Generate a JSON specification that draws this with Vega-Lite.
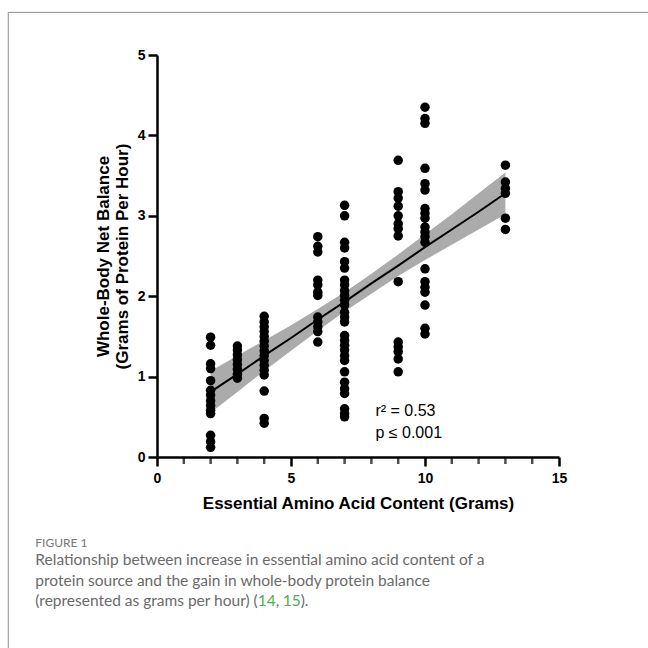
{
  "$schema": "https://vega.github.io/schema/vega-lite/v6.json",
  "autosize": "none",
  "width": 402,
  "height": 402,
  "padding": {"left": 157, "top": 55, "right": 89, "bottom": 191},
  "background": "white",
  "config": {"view": {"stroke": null}, "axis": {"labelOverlap": false, "labelFlush": false}},
  "datasets": {
    "points": [
      {"eaa": 2, "nb": 1.49}, {"eaa": 2, "nb": 1.39}, {"eaa": 2, "nb": 1.16}, {"eaa": 2, "nb": 1.10},
      {"eaa": 2, "nb": 0.95}, {"eaa": 2, "nb": 0.83}, {"eaa": 2, "nb": 0.77}, {"eaa": 2, "nb": 0.70},
      {"eaa": 2, "nb": 0.64}, {"eaa": 2, "nb": 0.58}, {"eaa": 2, "nb": 0.54}, {"eaa": 2, "nb": 0.27},
      {"eaa": 2, "nb": 0.19}, {"eaa": 2, "nb": 0.12},
      {"eaa": 3, "nb": 1.38}, {"eaa": 3, "nb": 1.33}, {"eaa": 3, "nb": 1.27}, {"eaa": 3, "nb": 1.21},
      {"eaa": 3, "nb": 1.15}, {"eaa": 3, "nb": 1.09}, {"eaa": 3, "nb": 1.03}, {"eaa": 3, "nb": 0.98},
      {"eaa": 4, "nb": 1.75}, {"eaa": 4, "nb": 1.68}, {"eaa": 4, "nb": 1.62}, {"eaa": 4, "nb": 1.56},
      {"eaa": 4, "nb": 1.50}, {"eaa": 4, "nb": 1.44}, {"eaa": 4, "nb": 1.38}, {"eaa": 4, "nb": 1.32},
      {"eaa": 4, "nb": 1.26}, {"eaa": 4, "nb": 1.20}, {"eaa": 4, "nb": 1.14}, {"eaa": 4, "nb": 1.08},
      {"eaa": 4, "nb": 1.02}, {"eaa": 4, "nb": 0.82}, {"eaa": 4, "nb": 0.48}, {"eaa": 4, "nb": 0.42},
      {"eaa": 6, "nb": 2.74}, {"eaa": 6, "nb": 2.62}, {"eaa": 6, "nb": 2.55}, {"eaa": 6, "nb": 2.20},
      {"eaa": 6, "nb": 2.14}, {"eaa": 6, "nb": 2.05}, {"eaa": 6, "nb": 2.01}, {"eaa": 6, "nb": 1.74},
      {"eaa": 6, "nb": 1.68}, {"eaa": 6, "nb": 1.62}, {"eaa": 6, "nb": 1.56}, {"eaa": 6, "nb": 1.43},
      {"eaa": 7, "nb": 3.13}, {"eaa": 7, "nb": 3.00}, {"eaa": 7, "nb": 2.67}, {"eaa": 7, "nb": 2.60},
      {"eaa": 7, "nb": 2.43}, {"eaa": 7, "nb": 2.35}, {"eaa": 7, "nb": 2.20}, {"eaa": 7, "nb": 2.14},
      {"eaa": 7, "nb": 2.07}, {"eaa": 7, "nb": 2.01}, {"eaa": 7, "nb": 1.95}, {"eaa": 7, "nb": 1.89},
      {"eaa": 7, "nb": 1.80}, {"eaa": 7, "nb": 1.74}, {"eaa": 7, "nb": 1.68}, {"eaa": 7, "nb": 1.51},
      {"eaa": 7, "nb": 1.45}, {"eaa": 7, "nb": 1.39}, {"eaa": 7, "nb": 1.33}, {"eaa": 7, "nb": 1.26},
      {"eaa": 7, "nb": 1.20}, {"eaa": 7, "nb": 1.06}, {"eaa": 7, "nb": 0.93}, {"eaa": 7, "nb": 0.85},
      {"eaa": 7, "nb": 0.79}, {"eaa": 7, "nb": 0.60}, {"eaa": 7, "nb": 0.54}, {"eaa": 7, "nb": 0.50},
      {"eaa": 9, "nb": 3.69}, {"eaa": 9, "nb": 3.30}, {"eaa": 9, "nb": 3.22}, {"eaa": 9, "nb": 3.12},
      {"eaa": 9, "nb": 3.00}, {"eaa": 9, "nb": 2.90}, {"eaa": 9, "nb": 2.84}, {"eaa": 9, "nb": 2.75},
      {"eaa": 9, "nb": 2.18}, {"eaa": 9, "nb": 1.43}, {"eaa": 9, "nb": 1.37}, {"eaa": 9, "nb": 1.31},
      {"eaa": 9, "nb": 1.22}, {"eaa": 9, "nb": 1.06},
      {"eaa": 10, "nb": 4.35}, {"eaa": 10, "nb": 4.21}, {"eaa": 10, "nb": 4.15}, {"eaa": 10, "nb": 3.59},
      {"eaa": 10, "nb": 3.40}, {"eaa": 10, "nb": 3.32}, {"eaa": 10, "nb": 3.09}, {"eaa": 10, "nb": 3.03},
      {"eaa": 10, "nb": 2.97}, {"eaa": 10, "nb": 2.86}, {"eaa": 10, "nb": 2.80}, {"eaa": 10, "nb": 2.74},
      {"eaa": 10, "nb": 2.67}, {"eaa": 10, "nb": 2.34}, {"eaa": 10, "nb": 2.18}, {"eaa": 10, "nb": 2.11},
      {"eaa": 10, "nb": 2.05}, {"eaa": 10, "nb": 1.89}, {"eaa": 10, "nb": 1.60}, {"eaa": 10, "nb": 1.53},
      {"eaa": 13, "nb": 3.63}, {"eaa": 13, "nb": 3.42}, {"eaa": 13, "nb": 3.34}, {"eaa": 13, "nb": 3.28},
      {"eaa": 13, "nb": 2.97}, {"eaa": 13, "nb": 2.83}
    ],
    "fit": [
      {"eaa": 2, "fit": 0.81, "lo": 0.55, "hi": 1.07},
      {"eaa": 3, "fit": 1.03, "lo": 0.81, "hi": 1.26},
      {"eaa": 4, "fit": 1.26, "lo": 1.07, "hi": 1.45},
      {"eaa": 5, "fit": 1.48, "lo": 1.32, "hi": 1.64},
      {"eaa": 6, "fit": 1.71, "lo": 1.57, "hi": 1.84},
      {"eaa": 7, "fit": 1.93, "lo": 1.81, "hi": 2.05},
      {"eaa": 8, "fit": 2.16, "lo": 2.03, "hi": 2.28},
      {"eaa": 9, "fit": 2.38, "lo": 2.25, "hi": 2.52},
      {"eaa": 10, "fit": 2.61, "lo": 2.45, "hi": 2.77},
      {"eaa": 11, "fit": 2.83, "lo": 2.64, "hi": 3.02},
      {"eaa": 12, "fit": 3.05, "lo": 2.83, "hi": 3.28},
      {"eaa": 13, "fit": 3.28, "lo": 3.02, "hi": 3.54}
    ],
    "minor": [
      {"eaa": 1}, {"eaa": 2}, {"eaa": 3}, {"eaa": 4}, {"eaa": 6}, {"eaa": 7}, {"eaa": 8},
      {"eaa": 9}, {"eaa": 11}, {"eaa": 12}, {"eaa": 13}, {"eaa": 14}
    ],
    "one": [{}]
  },
  "layer": [
    {
      "data": {"name": "fit"},
      "mark": {"type": "area", "color": "#ababab", "opacity": 1},
      "encoding": {
        "x": {
          "field": "eaa", "type": "quantitative",
          "scale": {"domain": [0, 15], "nice": false},
          "axis": {
            "title": "Essential Amino Acid Content (Grams)",
            "values": [0, 5, 10, 15],
            "format": "d",
            "labelOverlap": false,
            "labelFlush": false,
            "grid": false,
            "domainColor": "black", "domainWidth": 2.5,
            "tickColor": "black", "tickWidth": 2.5, "tickSize": 9,
            "labelFont": "Liberation Sans", "labelFontSize": 14, "labelFontWeight": "bold", "labelColor": "black",
            "labelPadding": 5,
            "titleFont": "Liberation Sans", "titleFontSize": 17, "titleFontWeight": "bold", "titleColor": "black",
            "titlePadding": 10
          }
        },
        "y": {
          "field": "lo", "type": "quantitative",
          "scale": {"domain": [0, 5], "nice": false},
          "axis": {
            "title": ["Whole-Body Net Balance", "(Grams of Protein Per Hour)"],
            "values": [0,1,2,3,4,5],
            "format": "d",
            "labelOverlap": false,
            "labelFlush": false,
            "grid": false,
            "domainColor": "black", "domainWidth": 2.5,
            "tickColor": "black", "tickWidth": 2.5, "tickSize": 9,
            "labelFont": "Liberation Sans", "labelFontSize": 14, "labelFontWeight": "bold", "labelColor": "black",
            "labelPadding": 3,
            "titleFont": "Liberation Sans", "titleFontSize": 17, "titleFontWeight": "bold", "titleColor": "black",
            "titleLineHeight": 19,
            "titlePadding": 6
          }
        },
        "y2": {"field": "hi"}
      }
    },
    {
      "data": {"name": "minor"},
      "mark": {"type": "tick", "orient": "vertical", "color": "black", "size": 6, "thickness": 2.5, "yOffset": 4, "clip": false},
      "encoding": {
        "x": {"field": "eaa", "type": "quantitative"},
        "y": {"datum": 0, "type": "quantitative"}
      }
    },
    {
      "data": {"name": "one"},
      "mark": {"type": "rect", "filled": false, "color": "#8c8c8c", "strokeWidth": 1, "clip": false},
      "encoding": {
        "x": {"datum": -5.55, "type": "quantitative"},
        "x2": {"datum": 20},
        "y": {"datum": 5.53, "type": "quantitative"},
        "y2": {"datum": -3.2}
      }
    },
    {
      "data": {"name": "fit"},
      "mark": {"type": "line", "color": "black", "strokeWidth": 2},
      "encoding": {
        "x": {"field": "eaa", "type": "quantitative"},
        "y": {"field": "fit", "type": "quantitative"}
      }
    },
    {
      "data": {"name": "points"},
      "mark": {"type": "circle", "color": "black", "opacity": 1, "size": 90},
      "encoding": {
        "x": {"field": "eaa", "type": "quantitative"},
        "y": {"field": "nb", "type": "quantitative"}
      }
    },
    {
      "data": {"name": "one"},
      "mark": {"type": "text", "align": "left", "baseline": "middle", "font": "Liberation Sans", "fontSize": 16, "color": "black"},
      "encoding": {
        "x": {"datum": 8.15, "type": "quantitative"},
        "y": {"datum": 0.57, "type": "quantitative"},
        "text": {"value": "r\u00b2 = 0.53"}
      }
    },
    {
      "data": {"name": "one"},
      "mark": {"type": "text", "align": "left", "baseline": "middle", "font": "Liberation Sans", "fontSize": 16, "color": "black"},
      "encoding": {
        "x": {"datum": 8.15, "type": "quantitative"},
        "y": {"datum": 0.295, "type": "quantitative"},
        "text": {"value": "p \u2264 0.001"}
      }
    },
    {
      "data": {"name": "one"},
      "mark": {"type": "text", "align": "left", "baseline": "alphabetic", "font": "Lato", "fontSize": 12, "color": "#777777", "clip": false},
      "encoding": {
        "x": {"datum": -4.54, "type": "quantitative"},
        "y": {"datum": -1.12, "type": "quantitative"},
        "text": {"value": "FIGURE 1"}
      }
    },
    {
      "data": {"name": "one"},
      "mark": {"type": "text", "align": "left", "baseline": "alphabetic", "font": "Lato", "fontSize": 15.5, "lineHeight": 20.5, "color": "#6a6a6a", "clip": false},
      "encoding": {
        "x": {"datum": -4.54, "type": "quantitative"},
        "y": {"datum": -1.345, "type": "quantitative"},
        "text": {"value": [
          "Relationship between increase in essential amino acid content of a",
          "protein source and the gain in whole-body protein balance"
        ]}
      }
    },
    {
      "data": {"name": "one"},
      "mark": {"type": "text", "align": "left", "baseline": "alphabetic", "font": "Lato", "fontSize": 15.5, "color": "#6a6a6a", "clip": false},
      "encoding": {
        "x": {"datum": -4.54, "type": "quantitative"},
        "y": {"datum": -1.855, "type": "quantitative"},
        "text": {"value": "(represented as grams per hour) ("}
      }
    },
    {
      "data": {"name": "one"},
      "mark": {"type": "text", "align": "left", "baseline": "alphabetic", "font": "Lato", "fontSize": 15.5, "color": "#4cae4c", "clip": false},
      "encoding": {
        "x": {"datum": 3.76, "type": "quantitative"},
        "y": {"datum": -1.855, "type": "quantitative"},
        "text": {"value": "14"}
      }
    },
    {
      "data": {"name": "one"},
      "mark": {"type": "text", "align": "left", "baseline": "alphabetic", "font": "Lato", "fontSize": 15.5, "color": "#6a6a6a", "clip": false},
      "encoding": {
        "x": {"datum": 4.43, "type": "quantitative"},
        "y": {"datum": -1.855, "type": "quantitative"},
        "text": {"value": ","}
      }
    },
    {
      "data": {"name": "one"},
      "mark": {"type": "text", "align": "left", "baseline": "alphabetic", "font": "Lato", "fontSize": 15.5, "color": "#4cae4c", "clip": false},
      "encoding": {
        "x": {"datum": 4.69, "type": "quantitative"},
        "y": {"datum": -1.855, "type": "quantitative"},
        "text": {"value": "15"}
      }
    },
    {
      "data": {"name": "one"},
      "mark": {"type": "text", "align": "left", "baseline": "alphabetic", "font": "Lato", "fontSize": 15.5, "color": "#6a6a6a", "clip": false},
      "encoding": {
        "x": {"datum": 5.36, "type": "quantitative"},
        "y": {"datum": -1.855, "type": "quantitative"},
        "text": {"value": ")."}
      }
    }
  ]
}
